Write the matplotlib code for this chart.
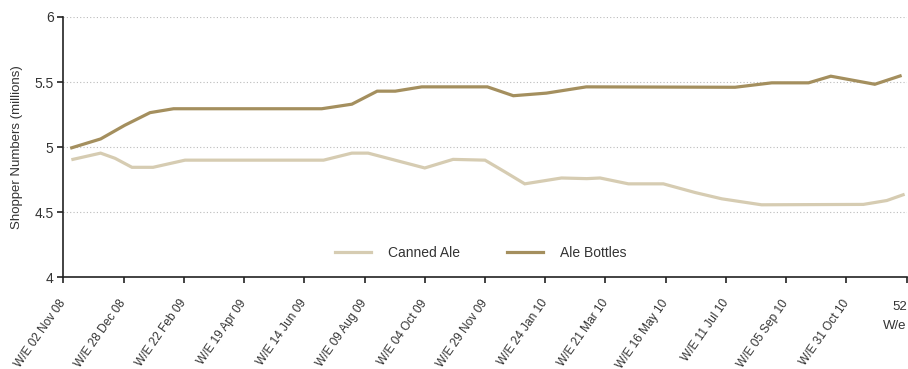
import matplotlib.pyplot as plt

plt.rcParams['font.family'] = ['Liberation Sans', 'DejaVu Sans']

# x positions in tick units (0 = W/E 02 Nov 08, 14 = 52 W/e)
bottles_x = [0.14, 0.62, 1.02, 1.44, 1.83, 4.29, 4.79, 5.21, 5.51, 5.95,
             7.04, 7.47, 8.02, 8.68, 11.15, 11.76, 12.37, 12.74, 13.47, 13.89]
bottles_y = [4.995, 5.063, 5.168, 5.265, 5.295, 5.295, 5.33, 5.43, 5.43, 5.463,
             5.463, 5.395, 5.415, 5.463, 5.46, 5.494, 5.494, 5.545, 5.483, 5.547]

canned_x = [0.16, 0.62, 0.86, 1.14, 1.49, 2.02, 4.32, 4.79, 5.06, 6.00, 6.47,
            7.00, 7.33, 7.66, 8.27, 8.69, 8.91, 9.38, 9.96, 10.49, 10.93,
            11.59, 13.28, 13.67, 13.94]
canned_y = [4.906, 4.954, 4.914, 4.845, 4.845, 4.90, 4.90, 4.954, 4.954, 4.84,
            4.906, 4.90, 4.81, 4.718, 4.763, 4.758, 4.763, 4.718, 4.718, 4.651,
            4.603, 4.557, 4.56, 4.59, 4.634]

tick_labels = ['W/E 02 Nov 08', 'W/E 28 Dec 08', 'W/E 22 Feb 09', 'W/E 19 Apr 09',
               'W/E 14 Jun 09', 'W/E 09 Aug 09', 'W/E 04 Oct 09', 'W/E 29 Nov 09',
               'W/E 24 Jan 10', 'W/E 21 Mar 10', 'W/E 16 May 10', 'W/E 11 Jul 10',
               'W/E 05 Sep 10', 'W/E 31 Oct 10', '52\nW/e']

fig = plt.figure(figsize=(9.08, 3.69), dpi=100)
ax = fig.add_axes([0.0697, 0.2485, 0.9289, 0.7055])

ax.plot(canned_x, canned_y, color='#D6CCB2', lw=2.3, label='Canned Ale', solid_joinstyle='miter')
ax.plot(bottles_x, bottles_y, color='#A48F5E', lw=2.3, label='Ale Bottles', solid_joinstyle='miter')

ax.set_xlim(0, 14)
ax.set_ylim(4, 6)
ax.set_yticks([4, 4.5, 5, 5.5, 6])
ax.set_yticklabels(['4', '4.5', '5', '5.5', '6'])
ax.set_xticks(range(15))
ax.set_xticklabels(tick_labels)

for lab in ax.get_xticklabels()[:-1]:
    lab.set_rotation(55)
    lab.set_rotation_mode('anchor')
    lab.set_ha('right')
    lab.set_va('center')
    lab.set_fontsize(8.6)
last = ax.get_xticklabels()[-1]
last.set_ha('right')
last.set_fontsize(9.5)
last.set_linespacing(1.8)

ax.tick_params(axis='x', length=4, width=1.2, colors='#222222', labelcolor='#333333', pad=13)
ax.tick_params(axis='y', length=4, width=1.2, colors='#222222', labelcolor='#333333', labelsize=10, pad=3)

for s in ['top', 'right']:
    ax.spines[s].set_visible(False)
for s in ['left', 'bottom']:
    ax.spines[s].set_linewidth(1.2)
    ax.spines[s].set_color('#222222')

for v in [4.5, 5, 5.5, 6]:
    ax.axhline(v, color='#bbbbbb', lw=0.8, ls=(0, (1, 2)), zorder=0)

ax.set_ylabel('Shopper Numbers (millions)', fontsize=9.5, color='#333333', labelpad=8)

ax.legend(loc='center', bbox_to_anchor=(0.495, 0.095), ncol=2, frameon=False,
          fontsize=10, handlelength=2.6, handletextpad=1.2, columnspacing=3.4,
          labelcolor='#333333')

fig.savefig('out.png', dpi=100)
